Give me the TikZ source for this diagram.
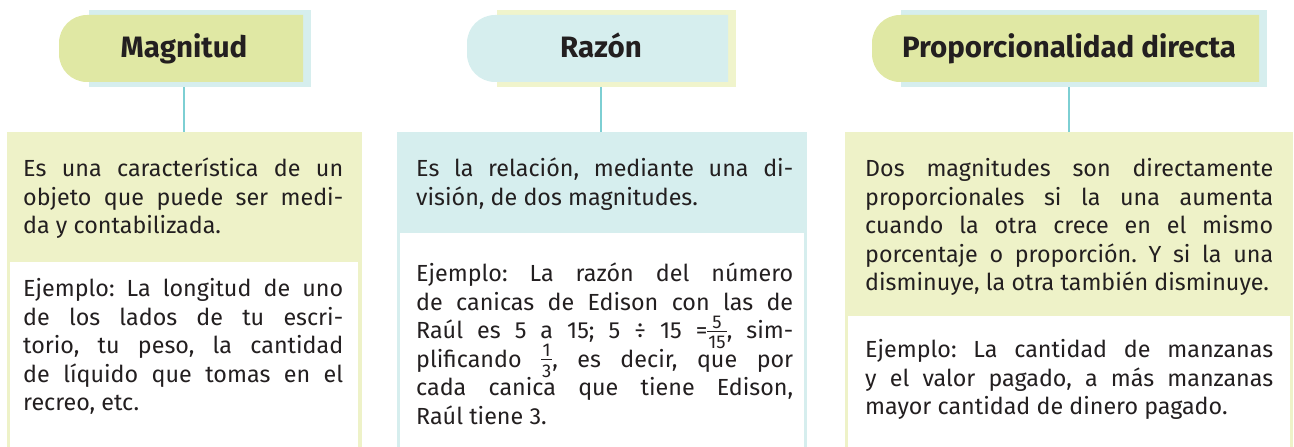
\documentclass[tikz,border=0pt]{standalone}
\usepackage{fontspec}
\setmainfont{Fira Sans}
\definecolor{tgreen}{HTML}{E0E8A4}
\definecolor{lgreen}{HTML}{EEF2C8}
\definecolor{lblue}{HTML}{D6EEEE}
\definecolor{lyel}{HTML}{F0F4CC}
\definecolor{tealc}{HTML}{7DCFD3}
\definecolor{ink}{HTML}{231F20}
\newcommand\myfr[2]{{\fontsize{18.5}{18.5}\selectfont\setbox0=\hbox{\kern1pt#2\kern1pt}\rlap{\raisebox{10.5pt}[0pt][0pt]{\makebox[\wd0]{#1}}}\rlap{\raisebox{7.4pt}[0pt][0pt]{\rule{\wd0}{0.8pt}}}\raisebox{-10pt}[0pt][0pt]{\box0}}}
\newcommand\bodytext[2]{\parbox[t]{#1}{\fontsize{23.3}{28.5}\selectfont\frenchspacing\lineskiplimit=-100pt\tolerance=10000\hbadness=10000\hyphenpenalty=10000 #2}}
\begin{document}
\begin{tikzpicture}[x=1pt,y=1pt,
  backrect/.style={inner sep=0pt, minimum height=77pt},
  boxnode/.style={inner sep=0pt, anchor=south west},
  ttext/.style={inner sep=0pt, anchor=base, text=ink, font=\fontsize{29.5}{32}\selectfont\bfseries},
  btext/.style={inner sep=0pt, anchor=base west, text=ink},
  conn/.style={draw=tealc, line width=2.6pt}]
\useasboundingbox (0,0) rectangle (1294,447);
% boxes
\node[boxnode, fill=lgreen, minimum width=355pt, minimum height=316pt] (b1) at (7,-1) {};
\fill[white] (10,-1) rectangle (358,185);
\node[boxnode, fill=lblue, minimum width=410pt, minimum height=316pt] (b2) at (397,-1) {};
\fill[white] (400,-1) rectangle (804,214);
\node[boxnode, fill=lgreen, minimum width=448pt, minimum height=316pt] (b3) at (845,-1) {};
\fill[white] (848,-1) rectangle (1290,131);
% titles
\node[backrect, fill=lblue, minimum width=222pt] (m0) at (200,398.5) {};
\fill[tgreen] (303,432) -- (87,432) arc[start angle=90,end angle=180,radius=28] -- (59,393) arc[start angle=180,end angle=270,radius=28] -- (303,365) -- cycle;
\node[ttext] (t1) at (184,389) {Magnitud};
\node[backrect, fill=lyel, minimum width=239pt] (r0) at (616.5,398.5) {};
\fill[lblue] (728,432) -- (495,432) arc[start angle=90,end angle=180,radius=28] -- (467,393) arc[start angle=180,end angle=270,radius=28] -- (728,365) -- cycle;
\node[ttext] (t2) at (601,389) {Razón};
\node[backrect, fill=lblue, minimum width=366pt] (p0) at (1084,398.5) {};
\fill[tgreen] (1259,432) -- (900,432) arc[start angle=90,end angle=180,radius=28] -- (872,393) arc[start angle=180,end angle=270,radius=28] -- (1259,365) -- cycle;
\node[ttext] (t3) at (1069,389) {Proporcionalidad directa};
% connectors
\draw[conn] (t1.base |- m0.south) -- (t1.base |- b1.north);
\draw[conn] (t2.base |- r0.south) -- (t2.base |- b2.north);
\draw[conn] (t3.base |- p0.south) -- (t3.base |- b3.north);
% texts
\node[btext] (d1) at (23,270) {\bodytext{320pt}{Es una característica de un\linebreak objeto que puede ser medi-\linebreak da y contabilizada.}};
\node[btext] (e1) at (23,150) {\bodytext{320pt}{Ejemplo: La longitud de uno\linebreak de los lados de tu escri-\linebreak torio, tu peso, la cantidad\linebreak de líquido que tomas en el\linebreak recreo, etc.}};
\node[btext] (d2) at (416,270) {\bodytext{377pt}{Es la relación, mediante una di-\linebreak visión, de dos magnitudes.}};
\node[btext] (e2) at (416,165) {\bodytext{377pt}{Ejemplo: La razón del número\linebreak de canicas de Edison con las de\linebreak Raúl es 5 a 15; 5 ÷ 15 =\myfr{5}{15}, sim-\linebreak plificando \myfr{1}{3}, es decir, que por\linebreak cada canica que tiene Edison,\linebreak Raúl tiene 3.}};
\node[btext] (d3) at (865,270) {\bodytext{408pt}{Dos magnitudes son directamente\linebreak proporcionales si la una aumenta\linebreak cuando la otra crece en el mismo\linebreak porcentaje o proporción. Y si la una\linebreak disminuye, la otra también disminuye.}};
\node[btext] (e3) at (865,89) {\bodytext{408pt}{Ejemplo: La cantidad de manzanas\linebreak y el valor pagado, a más manzanas\linebreak mayor cantidad de dinero pagado.}};
\end{tikzpicture}
\end{document}
